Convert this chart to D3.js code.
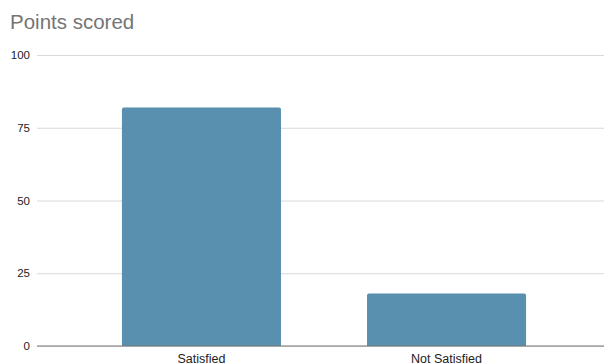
<!DOCTYPE html>
<html>
<head>
<meta charset="utf-8">
<script src="https://cdn.jsdelivr.net/npm/d3@7"></script>
<style>
  html, body { margin: 0; padding: 0; background: #fff; }
  svg { display: block; font-family: Arial, "Liberation Sans", sans-serif; }
</style>
</head>
<body>
<svg id="chart"></svg>
<script>
// --- Data ---
const categories = ["Satisfied", "Not Satisfied"];
const points = [82, 18];
const yTicks = [0, 25, 50, 75, 100];

const width = 604;
const height = 364;
const margin = { top: 55, right: 0, bottom: 18, left: 37 };

const svg = d3.select("#chart").attr("width", width).attr("height", height);

// title
svg.append("text")
    .attr("x", 10)
    .attr("y", 29)
    .attr("fill", "#757575")
    .attr("font-size", 20.5)
    .text("Points scored");

const y = d3.scaleLinear()
    .domain([0, 100])
    .range([height - margin.bottom, margin.top]);

const x = d3.scaleBand()
    .domain(categories)
    .range([44, width - margin.right])
    .paddingInner(0.351)
    .paddingOuter(0.318);

// gridlines + tick labels
const yAxis = svg.append("g")
    .attr("transform", `translate(${margin.left},0)`)
    .call(d3.axisLeft(y).tickValues(yTicks).tickSize(-(width - margin.left - margin.right)).tickPadding(7));
yAxis.select(".domain").remove();
yAxis.selectAll(".tick line").attr("stroke", "#d9d9d9");
yAxis.selectAll(".tick text").attr("fill", "#222").attr("font-size", 11.5).attr("font-family", "Arial, 'Liberation Sans', sans-serif");

// bars with slightly rounded tops
const r = 2;
svg.append("g")
    .selectAll("path")
    .data(points)
    .enter()
    .append("path")
    .attr("fill", "#5990af")
    .attr("d", (d, i) => {
        const x0 = x(categories[i]);
        const w = x.bandwidth();
        const y0 = y(d);
        const yb = y(0);
        return `M${x0},${yb}V${y0 + r}Q${x0},${y0} ${x0 + r},${y0}H${x0 + w - r}Q${x0 + w},${y0} ${x0 + w},${y0 + r}V${yb}Z`;
    });

// baseline
svg.append("line")
    .attr("x1", margin.left)
    .attr("x2", width)
    .attr("y1", y(0))
    .attr("y2", y(0))
    .attr("stroke", "#777")
    .attr("stroke-width", 1.2);

// category labels
svg.append("g")
    .selectAll("text")
    .data(categories)
    .enter()
    .append("text")
    .attr("x", d => x(d) + x.bandwidth() / 2)
    .attr("y", height - 1.5)
    .attr("text-anchor", "middle")
    .attr("fill", "#222")
    .attr("font-size", 12.5)
    .text(d => d);
</script>
</body>
</html>
